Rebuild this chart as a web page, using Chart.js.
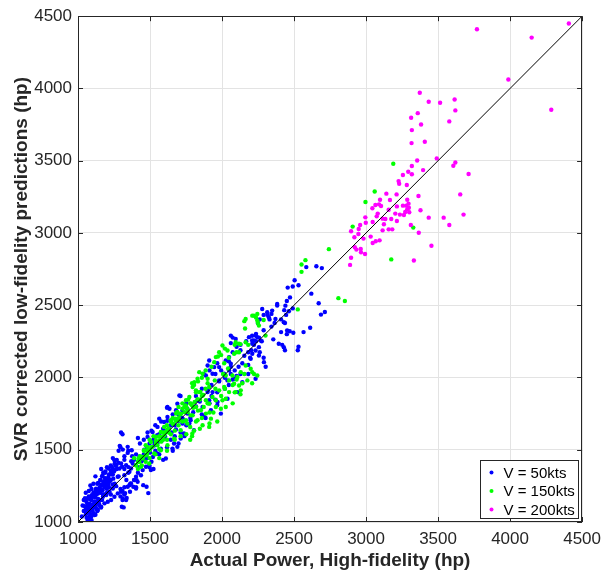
<!DOCTYPE html>
<html>
<head>
<meta charset="utf-8">
<script src="https://cdn.jsdelivr.net/npm/chart.js@4/dist/chart.umd.min.js"></script>
<style>
  body { margin: 0; background: #fff; }
</style>
</head>
<body>
<canvas id="myChart" width="608" height="572"></canvas>
<script>
// values: [actual hp, predicted hp]
const v50 = [
    [2504,2673],[2456,2622],[2491,2630],[2531,2638],[2585,2764],[2655,2770],[2693,2757],[2620,2580],
    [2671,2514],[2714,2453],[2687,2435],[2612,2344],[2566,2314],[2531,2213],[2526,2188],[2450,2300],
    [2470,2320],[2495,2310],[2437,2377],[2410,2402],[2445,2433],[2464,2458],[2491,2478],[2383,2498],
    [2432,2466],[2450,2529],[2472,2554],[2365,2377],[2343,2352],[2330,2402],[2418,2226],[2437,2188],
    [2410,2314],[2316,2433],[2289,2433],[2262,2402],[2249,2377],[2257,2276],[2236,2251],[2276,2251],
    [2236,2302],[2209,2289],[2222,2226],[2203,2188],[2262,2175],[2289,2137],[2303,2074],[2182,2175],
    [2155,2150],[2195,2137],[2141,2099],[2182,2087],[2074,2276],[2061,2238],[2101,2213],[2128,2188],
    [2074,2175],[2047,2112],[2061,2074],[2088,2049],[2101,2011],[2128,2024],[2074,1986],[1967,2099],
    [1994,2049],[1954,2024],[1913,2049],[1873,2024],[1860,1922],[1900,1910],[1927,1872],[1819,1872],
    [1846,1834],[1806,1796],[1712,1872],[1752,1821],[1725,1771],[1698,1745],[1658,1745],[1685,1707],
    [1645,1670],[1618,1791],[1577,1695],[1591,1645],[1564,1607],[1645,1569],[1672,1594],[1698,1543],
    [1618,1518],[1658,1493],[1537,1670],[1510,1632],[1483,1619],[1524,1569],[1497,1543],[1457,1569],
    [1430,1543],[1416,1581],[1537,1493],[1564,1468],[1591,1430],[1551,1543],[1483,1442],[1510,1417],
    [1497,1379],[1524,1367],[1457,1468],[1470,1442],[1403,1468],[1376,1455],[1389,1430],[1349,1493],
    [1322,1455],[1322,1430],[1309,1607],[1295,1518],[1282,1493],[1322,1367],[1349,1341],[1336,1291],
    [1363,1265],[1295,1228],[1322,1240],[1389,1291],[1416,1341],[1403,1240],[1309,1215],[1322,1190],
    [1295,1177],[1309,1152],[1317,1101],[1269,1367],[1282,1316],[1242,1329],[1228,1291],[1255,1265],
    [1215,1240],[1201,1202],[1228,1190],[1338,1166],[1327,1200],[1384,1244],[1361,1209],[1407,1290],
    [1453,1255],[1488,1200],[1476,1244],
    [1631,1645],[1604,1594],[1712,1619],[1739,1594],[1725,1682],[1752,1670],[1672,1670],[1860,1745],
    [1886,1720],[1954,1847],[1967,1809],[1913,1821],[2020,1922],[2047,1948],[2061,2024],[2115,2074],
    [2182,2024],[2020,1998],[1980,1973],[1927,1948],[1967,1897],[2168,2251],[2209,2256],[2128,2226],
    [2289,2327],[2356,2264],[2343,2440],
    [1350,1380],[1370,1420],[1420,1380],[1440,1420],[1460,1500],[1480,1520],[1500,1480],[1520,1450],
    [1530,1530],[1550,1600],[1580,1560],[1600,1630],[1620,1700],[1650,1620],[1680,1640],[1700,1700],
    [1720,1720],[1760,1750],[1780,1720],[1800,1760],[1820,1800],
    [1027,1038],[1040,1076],[1054,1101],[1067,1063],[1059,1139],[1081,1127],[1075,1177],[1094,1164],
    [1107,1202],[1102,1076],[1121,1101],[1134,1139],[1121,1215],[1148,1228],[1134,1265],[1161,1253],
    [1156,1291],[1175,1265],[1188,1303],[1183,1190],[1167,1152],[1148,1114],[1201,1291],[1215,1329],
    [1188,1341],[1228,1354],[1242,1367],[1175,1341],[1107,1265],[1094,1228],[1075,1215],[1067,1164],
    [1048,1164],[1054,1051],[1081,1038],[1094,1013],[1067,1013],[1121,1051],[1134,1076],[1113,1139],
    [1097,1101],[1032,1114],[1040,1152],[1075,1089],[1129,1190],[1156,1202],[1188,1240],[1210,1265],
    [1167,1316],[1201,1379],[1228,1392],[1255,1404],[1269,1430],[1242,1442],[1161,1367],[1121,1316],
    [1086,1253],[1054,1202],
    [1060,1030],[1085,1020],[1110,1060],[1100,1120],[1120,1170],[1140,1160],[1150,1240],[1170,1220],
    [1180,1280],[1195,1260],[1210,1310],[1230,1330],[1245,1300],[1160,1100],[1130,1090],[1145,1130],
    [1175,1190],[1200,1230],[1090,1050],[1070,1090],[1065,1125],[1080,1160],[1095,1185],[1110,1200],
    [1125,1230],[1140,1270],[1155,1290],[1170,1320],[1190,1350],[1210,1370],[1235,1380],[1260,1390],
    [1280,1410],[1250,1350],[1115,1140],[1135,1210],[1165,1260],[1190,1300],[1220,1280],[1240,1260],
    [1080,1120],[1050,1080],[1045,1110],[1100,1090],[1120,1110],[1185,1240],
    [1299,1619],[1290,1527],[1311,1501],[1345,1520],[1345,1478],[1373,1497],[1299,1405],[1306,1382],
    [1334,1393],[1368,1370],[1357,1347],[1380,1405],[1403,1313],[1391,1290],[1368,1267],[1345,1244],
    [1299,1209],[1322,1193],[1311,1163],[1304,1106],[1334,1152],[1357,1255],[1403,1232],[1414,1278],
    [1230,1336],[1253,1359],[1219,1290],[1196,1267],[1276,1313],[1253,1428],[1265,1393],[1288,1370],
    [1322,1324],[1437,1324],[1449,1359],[1472,1382],[1495,1393],[1506,1359],[1426,1451],[1460,1428],
    [1610,1439],[1552,1474],[1575,1508],[1529,1554],[1598,1577],[1483,1589],[1518,1623],[1552,1658],
    [1598,1692],[1621,1727],[1564,1715],[1667,1543],[1690,1520],[1656,1508],[1713,1577],[1736,1612],
    [1621,1796],[1690,1819],[1759,1784],[1782,1704],[1805,1635],
    [1092,1152],[1115,1175],[1138,1198],[1161,1221],[1184,1244],[1207,1255],[1069,1106],[1058,1060],
    [1081,1071],[1104,1106],[1127,1129],[1150,1152],[1173,1175],[1196,1186],[1219,1209],[1242,1232],
    [1265,1248],[1230,1152],[1253,1175],[1276,1198],[1138,1083],[1161,1106],[1184,1129],[1207,1140],
    [1115,1048],[1092,1037],
    [2383,2509],[2348,2463],[2440,2497],[2279,2474],[2314,2451],[2371,2405],[2325,2417],[2233,2290],
    [2245,2279],[2222,2256],[2268,2256],[2210,2233],[2256,2210],[2233,2187],[2210,2164],[2256,2152],
    [2291,2106],[2199,2129],[2187,2279],[2061,2290],[2095,2267],[2049,2141],[2026,2118],[2061,2095],
    [2049,2049],[1911,2118],[1900,2083],[1946,2072],[1980,2072],[2015,2026],[1934,2026],[2038,1980],
    [2084,1991],[1980,1980],[1888,2014],[1934,1899],[2233,1991],[2141,1968],[2107,1899],[2038,1853],
    [1969,1830],[1900,1899],[1911,1842],[1830,1842],[1865,1796],[1923,1773],[1704,1876],[1681,1773],
    [1727,1715],[1635,1784],[1773,1681],[1877,1727],[1992,1750],[2394,2233],[2429,2210],[2452,2325],
    [2429,2383]
];

const v150 = [
    [3189,3479],[3060,3287],[2996,3214],[2907,3044],[3328,3037],[3175,2817],[2742,2888],[2579,2812],
    [2552,2782],[2552,2731],[2808,2549],[2853,2529],[2526,2471],[2289,2398],[2236,2415],[2222,2428],
    [2249,2377],[2155,2390],[2160,2339],[2182,2226],[2128,2231],[2088,2226],[2101,2175],[2047,2137],
    [2020,2200],[1994,2155],[1972,2145],[2015,2099],[2007,2024],[2042,2062],[2101,1986],[2141,1960],
    [2209,1960],[2222,2024],[2155,2024],[2074,1948],[2088,1897],[2128,1884],[2074,1821],[1994,1872],
    [2020,1922],[1954,1922],[1927,2074],[1886,2049],[1860,1998],[1833,1973],[1806,1948],[1792,1960],
    [1819,1897],[1860,1872],[1900,1821],[1873,1796],[1913,1758],[1940,1758],[1967,1695],[1913,1682],
    [1860,1720],[1819,1695],[1846,1645],[1806,1632],[1779,1569],[1792,1594],[1752,1607],[1779,1657],
    [1725,1695],[1712,1745],[1752,1796],[1779,1821],[1765,1847],[1725,1821],[1698,1796],[1685,1758],
    [1658,1720],[1645,1695],[1618,1670],[1591,1619],[1631,1619],[1672,1632],[1698,1670],[1618,1569],
    [1577,1556],[1551,1531],[1564,1506],[1537,1468],[1510,1518],[1483,1493],[1470,1531],[1497,1569],
    [1524,1594],[1457,1493],[1430,1455],[1416,1417],[1403,1392],[1443,1392],[1470,1417],[1497,1442],
    [1389,1442],[1416,1367],[1564,1594],[1591,1569],[1645,1607],[1712,1594],[1672,1569],[1564,1442],
    [1618,1493],[1833,1771],[1846,1847],[1886,1922],
    [1700,1720],[1740,1760],[1760,1780],[1790,1810],[1810,1830],[1680,1700],[1660,1680],[1600,1600],
    [1540,1560],[1500,1500],[1450,1450],[1420,1440],[1480,1470],[1620,1640],[1740,1700],[1800,1790],
    [1830,1850],[1870,1880],[1900,1960],[1850,1900],[1950,1980],
    [1403,1393],[1426,1416],[1449,1439],[1472,1462],[1495,1497],[1518,1520],[1541,1543],[1564,1566],
    [1587,1589],[1610,1623],[1633,1646],[1656,1681],[1679,1715],[1702,1750],[1725,1784],[1748,1807],
    [1460,1497],[1483,1520],[1506,1554],[1541,1589],[1575,1623],[1598,1658],[1644,1704],[1690,1761],
    [1529,1474],[1575,1497],[1621,1531],[1667,1577],[1713,1635],[1759,1681],[1794,1612],[1782,1738],
    [1495,1405],[1437,1382],
    [2210,2428],[2245,2440],[2164,2405],[2245,2394],[2256,2359],[2302,2290],[2164,2244],[2118,2233],
    [2095,2244],[2003,2221],[2038,2187],[1980,2175],[1957,2141],[1946,2106],[2084,2164],[2118,2175],
    [2164,2083],[2199,2060],[2210,2037],[2245,2014],[2130,2037],[2107,2003],[2072,2014],[2049,1980],
    [2084,1957],[2118,1945],[2176,1980],[2026,2014],[2015,1934],[1980,1911],[2049,1899],[2095,1899],
    [2130,1911],[1934,1865],[1957,1842],[2003,1842],[2026,1853],[1911,1934],[1900,1991],[1865,2026],
    [1842,2037],[1830,1991],[1808,1968],[1796,1934],[1819,1911],[1842,1899],[1865,1876],[1888,1842],
    [1911,1819],[1957,1796],[1992,1784],[2026,1796],[1773,1865],[1750,1842],[1785,1819],[1819,1796],
    [1853,1773],[1888,1750],[1923,1715],[1739,1796],[1716,1750],[1762,1761],[1796,1738],[1830,1704],
    [1681,1750],[1658,1715],[1704,1704],[1750,1704],[1865,1669],[1911,1658]
];

const v200 = [
    [3770,4410],[4150,4352],[4408,4449],[3988,4062],[4286,3853],[3373,3970],[3435,3908],[3514,3901],
    [3615,3924],[3620,3848],[3359,3829],[3313,3797],[3382,3751],[3578,3772],[3318,3712],[3316,3622],
    [3408,3631],[3491,3516],[3355,3502],[3620,3488],[3606,3465],[3318,3463],[3396,3435],[3293,3424],
    [3318,3406],[3712,3408],[3256,3401],[3226,3359],[3230,3341],[3283,3332],[3654,3267],[3364,3256],
    [3212,3267],[3141,3272],[3097,3230],[3166,3228],[3065,3194],[3044,3171],[3090,3198],[3104,3187],
    [3157,3161],[3214,3184],[3256,3189],[3286,3230],[3295,3203],[3279,3189],[3297,3175],[3286,3164],
    [3272,3145],[3300,3143],[3378,3157],[3203,3134],[3235,3127],[3263,3124],[3081,3134],[3074,3115],
    [2995,3108],[2998,3071],[3046,3076],[3115,3099],[3134,3097],[3175,3097],[3214,3083],[3124,3060],
    [3435,3106],[3539,3106],[3677,3127],[3311,3055],[3578,3055],[2959,3055],[3115,3018],[3157,3025],
    [3182,3025],[2949,3028],[2896,3012],[2947,2993],[2919,2970],[2982,2961],[3366,3002],[3032,2975],
    [3046,2931],[3067,2943],[3094,2949],[2922,2901],[2933,2885],[2963,2889],[2965,2866],[2993,2855],
    [3454,2912],[2896,2829],[2889,2779],[3332,2809]
];

const seriesNames = ['V = 50kts', 'V = 150kts', 'V = 200kts'];
const seriesColors = ['#0000ff', '#00ff00', '#ff00ff'];
const tickValues = [1000, 1500, 2000, 2500, 3000, 3500, 4000, 4500];
const diagonal = [1000, 4500];

const fontFace = "'Liberation Sans', Arial, Helvetica, sans-serif";
const textColor = '#262626';

function toPoints(list) {
    return list.map(p => ({ x: p[0], y: p[1] }));
}

// frame with inward ticks on all four sides, plus the boxed legend
const framePlugin = {
    id: 'frame',
    afterDraw(chart) {
        const c = chart.ctx;
        const a = chart.chartArea;
        const xs = chart.scales.x, ys = chart.scales.y;
        c.save();
        c.strokeStyle = textColor;
        c.lineWidth = 1;
        c.strokeRect(Math.round(a.left) + 0.5, Math.round(a.top) + 0.5,
            Math.round(a.right - a.left) - 1, Math.round(a.bottom - a.top) - 1);
        c.beginPath();
        tickValues.forEach(v => {
            const px = Math.round(xs.getPixelForValue(v)) + 0.5;
            c.moveTo(px, a.bottom); c.lineTo(px, a.bottom - 5);
            c.moveTo(px, a.top); c.lineTo(px, a.top + 5);
            const py = Math.round(ys.getPixelForValue(v)) + 0.5;
            c.moveTo(a.left, py); c.lineTo(a.left + 5, py);
            c.moveTo(a.right, py); c.lineTo(a.right - 5, py);
        });
        c.stroke();

        // legend
        const bw = 98, bh = 58;
        const bx = Math.round(a.right - 4 - bw) + 0.5;
        const by = Math.round(a.bottom - 4 - bh) + 0.5;
        c.fillStyle = '#fff';
        c.fillRect(bx, by, bw, bh);
        c.strokeStyle = '#262626';
        c.strokeRect(bx, by, bw, bh);
        c.font = '15px ' + fontFace;
        c.textBaseline = 'middle';
        seriesNames.forEach((name, i) => {
            const y = by + 12 + i * 18.5;
            c.fillStyle = seriesColors[i];
            c.beginPath();
            c.arc(bx + 11, y, 2, 0, Math.PI * 2);
            c.fill();
            c.fillStyle = '#000';
            c.fillText(name, bx + 23, y + 1);
        });
        c.restore();
    }
};

let ctx = document.getElementById('myChart').getContext('2d');
let myChart = new Chart(ctx, {
    type: 'scatter',
    data: {
        datasets: [
            { label: seriesNames[0], data: toPoints(v50), backgroundColor: seriesColors[0], pointRadius: 2.2, borderWidth: 0, order: 3 },
            { label: seriesNames[1], data: toPoints(v150), backgroundColor: seriesColors[1], pointRadius: 2.2, borderWidth: 0, order: 2 },
            { label: seriesNames[2], data: toPoints(v200), backgroundColor: seriesColors[2], pointRadius: 2.2, borderWidth: 0, order: 1 },
            { type: 'line', label: 'y = x', data: diagonal.map(v => ({ x: v, y: v })),
              borderColor: '#000', borderWidth: 1, pointRadius: 0, fill: false, order: 0 }
        ]
    },
    options: {
        responsive: false,
        animation: false,
        layout: { padding: { left: 0, right: 23, top: 15, bottom: 0 } },
        plugins: { legend: { display: false }, tooltip: { enabled: false } },
        scales: {
            x: {
                type: 'linear', min: 1000, max: 4500,
                afterBuildTicks(s) { s.ticks = tickValues.map(v => ({ value: v })); },
                afterFit(s) { s.height = 50; },
                ticks: { font: { family: fontFace, size: 17 }, color: textColor, padding: 7, maxRotation: 0,
                         callback: v => String(v) },
                grid: { color: '#e3e3e3', drawTicks: false },
                border: { display: false },
                title: { display: true, text: 'Actual Power, High-fidelity (hp)', color: textColor,
                         font: { family: fontFace, size: 19, weight: 'bold' }, padding: { top: 0, bottom: 0 } }
            },
            y: {
                type: 'linear', min: 1000, max: 4500,
                afterBuildTicks(s) { s.ticks = tickValues.map(v => ({ value: v })); },
                afterFit(s) { s.width = 78; },
                ticks: { font: { family: fontFace, size: 17 }, color: textColor, padding: 6,
                         callback: v => String(v) },
                grid: { color: '#e3e3e3', drawTicks: false },
                border: { display: false },
                title: { display: true, text: 'SVR corrected low-fidelity predictions (hp)', color: textColor,
                         font: { family: fontFace, size: 19, weight: 'bold' }, padding: { top: 10, bottom: 0 } }
            }
        }
    },
    plugins: [framePlugin]
});
</script>
</body>
</html>
